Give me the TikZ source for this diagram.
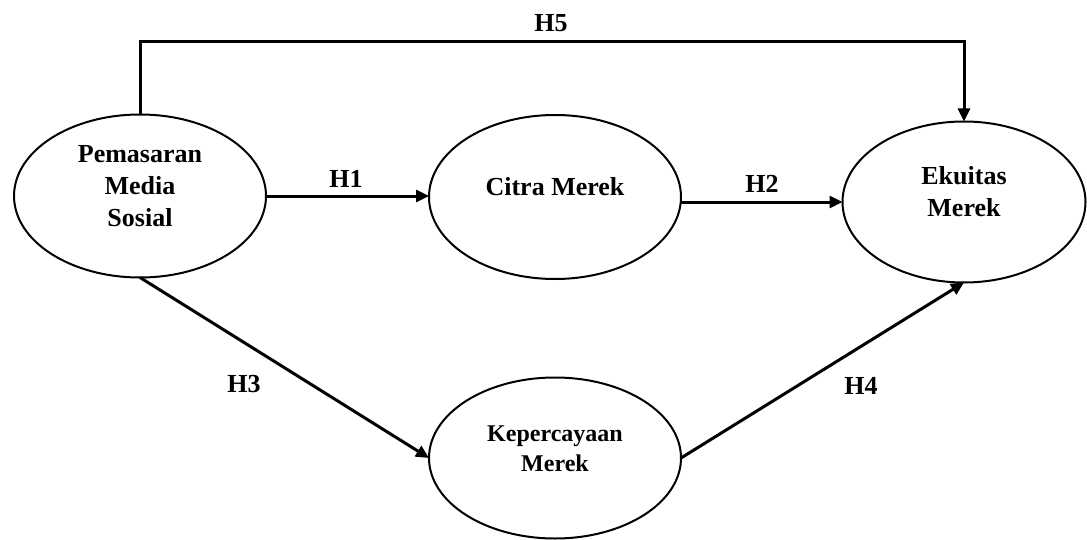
\documentclass[tikz,border=0pt]{standalone}
\usepackage{fontspec}
\setmainfont{Liberation Serif}
\usetikzlibrary{arrows.meta,shapes.geometric}

\newcommand{\vlabel}[1]{\begin{tabular}{@{}c@{}}#1\\[8pt]\end{tabular}}

\tikzset{
	var/.style={draw,ellipse,line width=1pt,inner sep=0pt,outer sep=0pt,
		minimum width=126pt,minimum height=81.5pt,
		font=\fontsize{13}{16}\selectfont\bfseries},
	hyp/.style={line width=1.5pt,-{Triangle[length=6.5pt,width=6pt]}},
	hlab/.style={font=\fontsize{13}{16}\selectfont\bfseries}
}

\begin{document}
\begin{tikzpicture}[x=0.5pt,y=-0.5pt]
			\useasboundingbox (0,0) rectangle (1087,540);

			\node[var] (pms) at (140,196) {\vlabel{Pemasaran\\Media\\Sosial}};
			\node[var,minimum height=82pt] (cit) at (555,197) {\vlabel{Citra Merek}};
			\node[var,minimum width=121.5pt,minimum height=80.5pt] (eku) at (964,202) {\vlabel{Ekuitas\\Merek}};
			\node[var,minimum height=80.5pt,font=\fontsize{12}{15}\selectfont\bfseries] (kep) at (555,458) {\vlabel{Kepercayaan\\Merek}};

			\coordinate (top) at (555,42);

			\draw[hyp] (pms.east)--(pms.east -| cit.west);
			\draw[hyp] (cit.east |- eku.west)--(eku.west);
			\draw[hyp] (pms.south)--(kep.west);
			\draw[hyp] (kep.east)--(eku.south);
			\draw[hyp] (pms.north) |- (top) -| (eku.north);

			\node[hlab] (h1) at (346,179) {H1};
			\node[hlab] (h2) at (762,184) {H2};
			\node[hlab] (h3) at (244,384) {H3};
			\node[hlab] (h4) at (861,386) {H4};
			\node[hlab] (h5) at (551,23) {H5};
		\end{tikzpicture}
\end{document}
